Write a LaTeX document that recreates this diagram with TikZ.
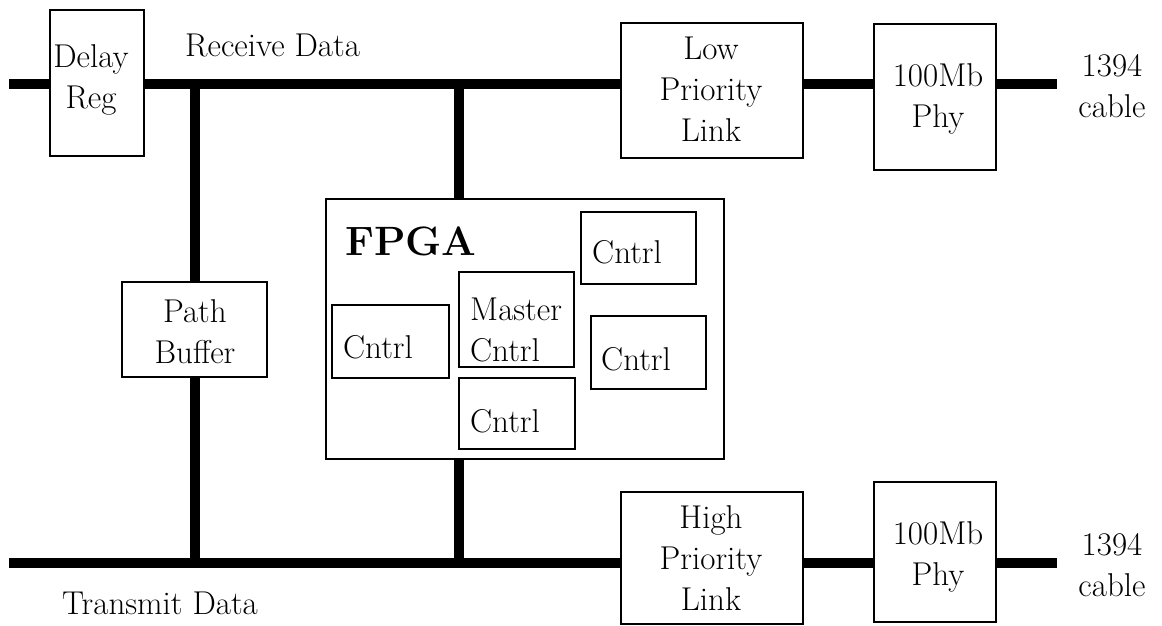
\documentclass[tikz,border=0pt]{standalone}
\usepackage{fontspec}
\tikzset{
  box/.style={draw, line width=1.6pt, fill=white, inner sep=0pt, rectangle},
  lbl/.style={inner sep=0pt, font=\fontsize{33}{41}\selectfont, align=center},
  bus/.style={line width=10pt},
}
\begin{document}
\begin{tikzpicture}[x=1pt,y=-1pt]
\fill[white] (0,0) rectangle (1162,626);
\useasboundingbox (0,0) rectangle (1162,626);

% bus reference levels and free ends
\coordinate (tb) at (0,84);
\coordinate (bb) at (0,563);
\coordinate (lend) at (9,0);
\coordinate (rend) at (1057,0);
\coordinate (tap) at (459,0);

% blocks
\node[box, minimum width=94pt,  minimum height=146pt] (delay)  at (97,83)     {};
\node[box, minimum width=182pt, minimum height=135pt] (low)    at (712,90.5)  {};
\node[box, minimum width=122pt, minimum height=146pt] (phyT)   at (935,97)    {};
\node[box, minimum width=145pt, minimum height=95pt]  (pbuf)   at (194.5,329.5) {};
\node[box, minimum width=398pt, minimum height=260pt] (fpga)   at (525,329)   {};
\node[box, minimum width=115pt, minimum height=72pt]  (c1)     at (638.5,248) {};
\node[box, minimum width=115pt, minimum height=95pt]  (master) at (516.5,319.5) {};
\node[box, minimum width=117pt, minimum height=73pt]  (c2)     at (390.5,341.5) {};
\node[box, minimum width=115pt, minimum height=73pt]  (c3)     at (648.5,352.5) {};
\node[box, minimum width=116pt, minimum height=71pt]  (c4)     at (517,413.5) {};
\node[box, minimum width=182pt, minimum height=132pt] (high)   at (712,558)   {};
\node[box, minimum width=122pt, minimum height=140pt] (phyB)   at (935,552)   {};

% receive bus
\draw[bus] (lend |- tb) -- (delay.west |- tb);
\draw[bus] (delay.east |- tb) -- (low.west |- tb);
\draw[bus] (low.east |- tb) -- (phyT.west |- tb);
\draw[bus] (phyT.east |- tb) -- (rend |- tb);

% transmit bus
\draw[bus] (lend |- bb) -- (high.west |- bb);
\draw[bus] (high.east |- bb) -- (phyB.west |- bb);
\draw[bus] (phyB.east |- bb) -- (rend |- bb);

% vertical taps
\draw[bus] (pbuf.north) -- (pbuf.north |- tb);
\draw[bus] (pbuf.south) -- (pbuf.south |- bb);
\draw[bus] (tap |- fpga.north) -- (tap |- tb);
\draw[bus] (tap |- fpga.south) -- (tap |- bb);

% labels
\node[lbl, anchor=north] (delayt) at (91,44) {Delay\\Reg};
\node[lbl, anchor=base west] (rxt) at (185,57) {Receive Data};
\node[lbl, anchor=base west] (txt) at (62,614) {Transmit Data};
\node[lbl, anchor=north] (lowt) at (711,37) {Low\\Priority\\Link};
\node[lbl, anchor=north] (phyTt) at (938,63) {100Mb\\Phy};
\node[lbl, anchor=north] (cabT) at (1112,54.7) {1394\\cable};
\node[lbl, anchor=north] (pbuft) at (195,299) {Path\\Buffer};
\node[lbl, anchor=base west, font={\fontsize{41}{48}\selectfont\bfseries}] (fpgat) at (345,255) {FPGA};
\node[lbl, anchor=base west] (c1t) at (592,263) {Cntrl};
\node[lbl, anchor=north west, align=left] (mastert) at (470,297.5) {Master\\Cntrl};
\node[lbl, anchor=base west] (c2t) at (343,358) {Cntrl};
\node[lbl, anchor=base west] (c3t) at (601,370) {Cntrl};
\node[lbl, anchor=base west] (c4t) at (470,432) {Cntrl};
\node[lbl, anchor=north] (hight) at (711,505) {High\\Priority\\Link};
\node[lbl, anchor=north] (phyBt) at (938,521) {100Mb\\Phy};
\node[lbl, anchor=north] (cabB) at (1112,533.7) {1394\\cable};
\end{tikzpicture}
\end{document}
